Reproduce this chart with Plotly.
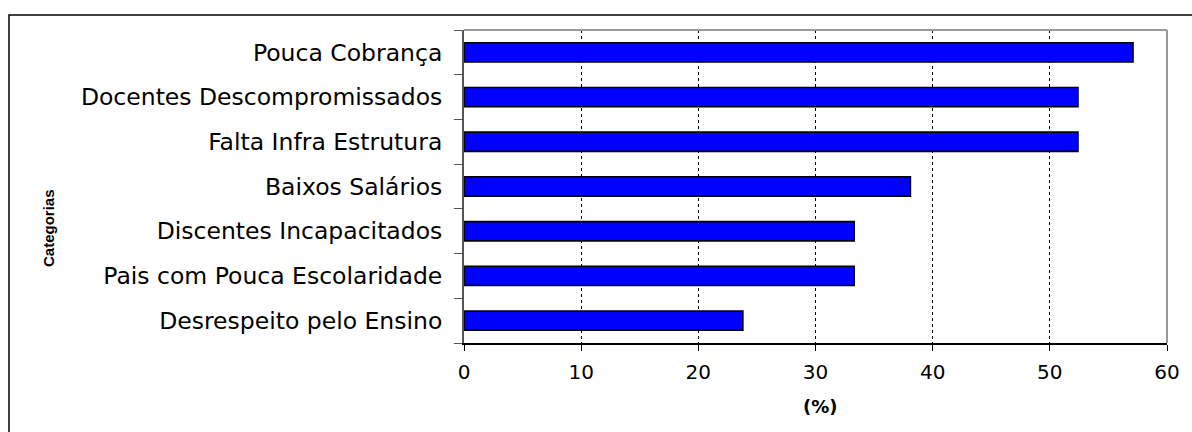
import plotly.graph_objects as go

# Categories listed top to bottom as they appear on the chart
categorias = [
    "Pouca Cobrança",
    "Docentes Descompromissados",
    "Falta Infra Estrutura",
    "Baixos Salários",
    "Discentes Incapacitados",
    "Pais com Pouca Escolaridade",
    "Desrespeito pelo Ensino",
]
percentuais = [57.1, 52.4, 52.4, 38.1, 33.3, 33.3, 23.8]
x_ticks = [0, 10, 20, 30, 40, 50, 60]

W, H = 1192, 432
L, R, T, B = 464, 25, 30, 89
pw, ph = W - L - R, H - T - B


def px_x(p):
    return (p - L) / pw


def px_y(p):
    return (H - B - p) / ph


fig = go.Figure(
    go.Bar(
        x=percentuais,
        y=categorias,
        orientation="h",
        marker=dict(color="#0000FF", line=dict(color="black", width=1.6)),
        width=0.43,
    )
)

font_main = "DejaVu Sans, Verdana, sans-serif"

fig.update_layout(
    width=W,
    height=H,
    margin=dict(l=L, r=R, t=T, b=B),
    paper_bgcolor="white",
    plot_bgcolor="white",
    showlegend=False,
    font=dict(family=font_main, size=20, color="black"),
    xaxis=dict(
        range=[0, 60],
        tickvals=x_ticks,
        ticktext=[str(v) for v in x_ticks],
        showgrid=True,
        gridcolor="black",
        griddash="dot",
        gridwidth=1,
        zeroline=False,
        showline=True,
        linecolor="black",
        linewidth=1.5,
        ticks="outside",
        ticklen=6,
        tickcolor="black",
        tickfont=dict(size=20),
        ticklabelstandoff=4,
    ),
    yaxis=dict(
        categoryorder="array",
        categoryarray=categorias[::-1],
        showgrid=False,
        zeroline=False,
        showline=True,
        linecolor="#555555",
        linewidth=2,
        ticks="outside",
        tickson="boundaries",
        ticklen=8,
        tickcolor="#555555",
        tickfont=dict(size=23.5),
        ticklabelstandoff=15,
    ),
    shapes=[
        # outer chart frame
        dict(type="rect", xref="paper", yref="paper",
             x0=px_x(9), x1=px_x(1210), y0=px_y(450), y1=px_y(15),
             line=dict(color="black", width=1.5), layer="below"),
        # plot area border (top and right)
        dict(type="line", xref="paper", yref="paper",
             x0=0, x1=1, y0=1, y1=1, line=dict(color="#999999", width=2)),
        dict(type="line", xref="paper", yref="paper",
             x0=1, x1=1, y0=0, y1=1, line=dict(color="#999999", width=2)),
    ],
    annotations=[
        dict(text="<b>Categorias</b>", xref="paper", yref="paper",
             x=px_x(48), y=px_y(228), showarrow=False, textangle=-90,
             font=dict(family="Liberation Sans, Arial, sans-serif", size=15),
             xanchor="center", yanchor="middle"),
        dict(text="<b>(%)</b>", xref="paper", yref="paper",
             x=px_x(820), y=px_y(406), showarrow=False,
             font=dict(family=font_main, size=18),
             xanchor="center", yanchor="middle"),
    ],
)

fig.write_html("out.html")
